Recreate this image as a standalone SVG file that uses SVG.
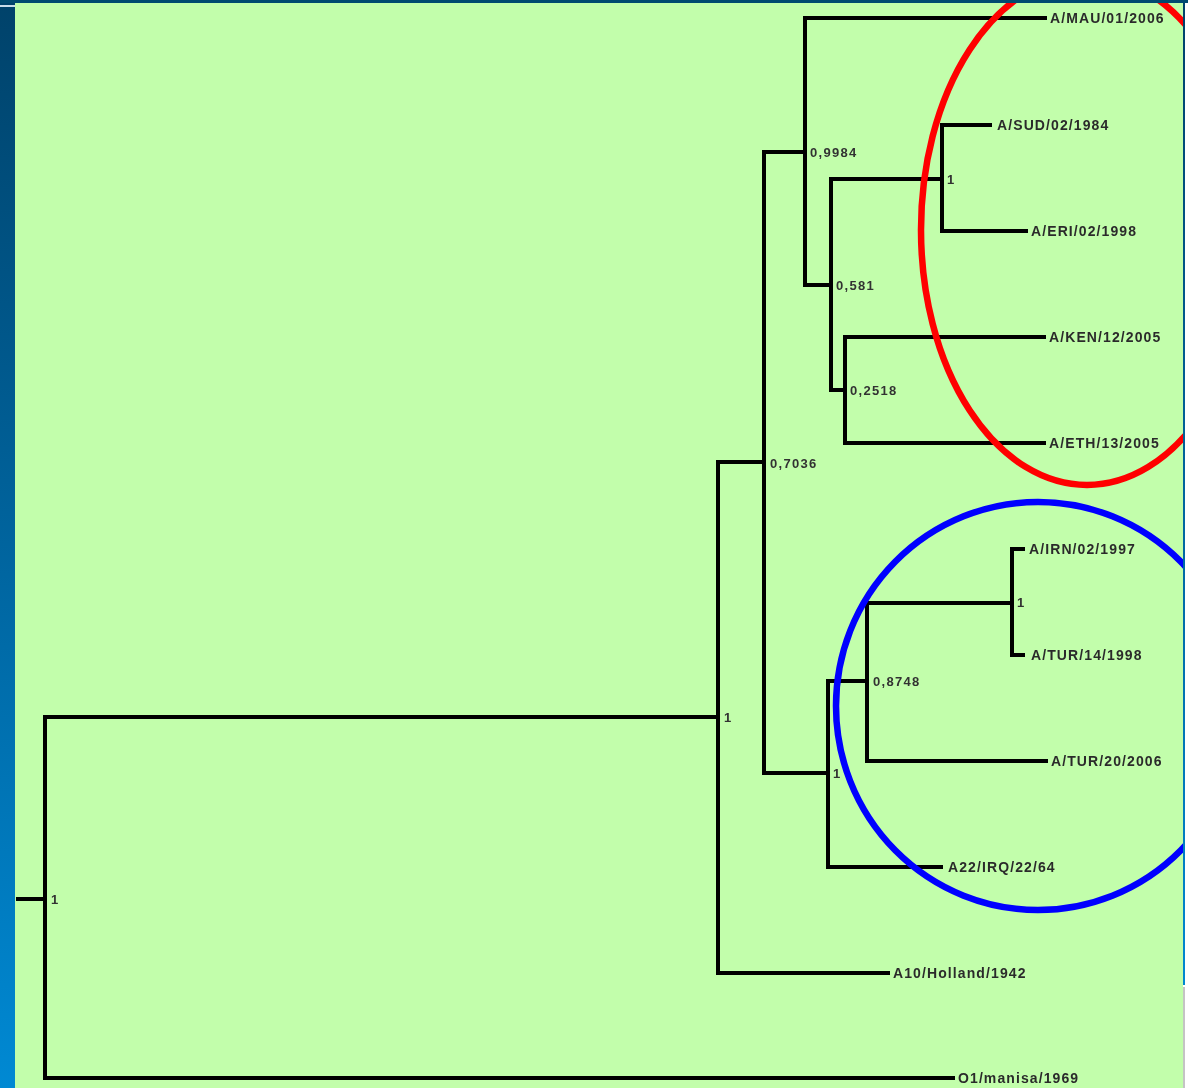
<svg xmlns="http://www.w3.org/2000/svg" width="1188" height="1088" viewBox="0 0 1188 1088">
  <style>
    .branch { fill: none; stroke: #050505; stroke-width: 4; stroke-linecap: square; stroke-linejoin: miter; }
    .leaf { font-family: "Liberation Sans", Arial, sans-serif; font-weight: bold; font-size: 14px; letter-spacing: 1.1px; fill: #2c2c2c; }
    .support { font-family: "Liberation Sans", Arial, sans-serif; font-weight: bold; font-size: 13px; letter-spacing: 1.3px; fill: #333333; }
    .ring { fill: none; stroke-width: 6.5; }
  </style>
  <defs>
    <linearGradient id="sideBar" x1="0" y1="0" x2="0" y2="1">
      <stop offset="0" stop-color="#00426a"/>
      <stop offset="0.5" stop-color="#00649e"/>
      <stop offset="1" stop-color="#0089d3"/>
    </linearGradient>
    <linearGradient id="rightBar" x1="0" y1="0" x2="0" y2="1">
      <stop offset="0" stop-color="#00426a"/>
      <stop offset="1" stop-color="#0088d0"/>
    </linearGradient>
    <clipPath id="panel">
      <rect x="15" y="3" width="1168" height="1085"/>
    </clipPath>
    <filter id="soft" x="-5%" y="-5%" width="110%" height="110%">
      <feGaussianBlur stdDeviation="0.45"/>
    </filter>
  </defs>

  <!-- frame and background panel -->
  <rect x="0" y="0" width="1188" height="1088" fill="#ffffff"/>
  <rect x="0" y="0" width="15" height="1088" fill="url(#sideBar)"/>
  <rect x="0" y="0" width="1188" height="3" fill="#004a70"/>
  <rect x="0" y="5" width="15" height="2" fill="#c8dcea"/>
  <rect x="15" y="3" width="1168" height="1085" fill="#c2feab"/>
  <rect x="1183" y="3" width="2" height="982" fill="url(#rightBar)"/>
  <rect x="1183" y="987" width="2" height="101" fill="#c4c4c4"/>

  <!-- branches of the tree -->
  <g id="connectors" class="branch" filter="url(#soft)">
    <path d="M18,899 H45"/>
    <path d="M45,899 V717 H718"/>
    <path d="M45,899 V1078 H953"/>
    <path d="M718,717 V462 H764"/>
    <path d="M718,717 V973 H888"/>
    <path d="M764,462 V152 H805"/>
    <path d="M764,462 V773 H828"/>
    <path d="M805,152 V18 H1045"/>
    <path d="M805,152 V285 H831"/>
    <path d="M831,285 V179 H942"/>
    <path d="M942,179 V125 H990"/>
    <path d="M942,179 V231 H1026"/>
    <path d="M831,285 V390 H845"/>
    <path d="M845,390 V337 H1044"/>
    <path d="M845,390 V443 H1044"/>
    <path d="M828,773 V681 H867"/>
    <path d="M828,773 V867 H941"/>
    <path d="M867,681 V603 H1012"/>
    <path d="M867,681 V761 H1046"/>
    <path d="M1012,603 V549 H1023"/>
    <path d="M1012,603 V655 H1023"/>
  </g>

  <!-- internal nodes with support values -->
  <g filter="url(#soft)">
    <g id="node-root"><text class="support" x="51" y="904">1</text></g>
    <g id="node-a"><text class="support" x="724" y="722">1</text></g>
    <g id="node-b"><text class="support" x="770" y="468">0,7036</text></g>
    <g id="node-c"><text class="support" x="810" y="157">0,9984</text></g>
    <g id="node-d"><text class="support" x="836" y="290">0,581</text></g>
    <g id="node-e"><text class="support" x="947" y="184">1</text></g>
    <g id="node-f"><text class="support" x="850" y="395">0,2518</text></g>
    <g id="node-g"><text class="support" x="833" y="778">1</text></g>
    <g id="node-h"><text class="support" x="873" y="686">0,8748</text></g>
    <g id="node-i"><text class="support" x="1017" y="607">1</text></g>

    <!-- leaves -->
    <g id="leaf-mau"><text class="leaf" x="1050" y="23">A/MAU/01/2006</text></g>
    <g id="leaf-sud"><text class="leaf" x="997" y="130">A/SUD/02/1984</text></g>
    <g id="leaf-eri"><text class="leaf" x="1031" y="236">A/ERI/02/1998</text></g>
    <g id="leaf-ken"><text class="leaf" x="1049" y="342">A/KEN/12/2005</text></g>
    <g id="leaf-eth"><text class="leaf" x="1049" y="448">A/ETH/13/2005</text></g>
    <g id="leaf-irn"><text class="leaf" x="1029" y="554">A/IRN/02/1997</text></g>
    <g id="leaf-tur14"><text class="leaf" x="1031" y="660">A/TUR/14/1998</text></g>
    <g id="leaf-tur20"><text class="leaf" x="1051" y="766">A/TUR/20/2006</text></g>
    <g id="leaf-irq"><text class="leaf" x="948" y="872">A22/IRQ/22/64</text></g>
    <g id="leaf-holland"><text class="leaf" x="893" y="978">A10/Holland/1942</text></g>
    <g id="leaf-manisa"><text class="leaf" x="958" y="1083">O1/manisa/1969</text></g>
  </g>

  <!-- highlight rings around the two groups -->
  <g clip-path="url(#panel)">
    <ellipse id="ring-red" class="ring" stroke="#ff0000" cx="1087" cy="230" rx="166" ry="255"/>
    <ellipse id="ring-blue" class="ring" stroke="#0000ff" cx="1038" cy="706" rx="202" ry="204"/>
  </g>
</svg>
